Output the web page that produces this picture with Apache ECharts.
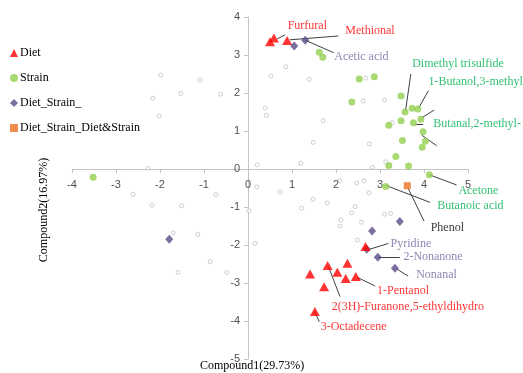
<!DOCTYPE html>
<html>
<head>
<meta charset="utf-8">
<script src="https://cdn.jsdelivr.net/npm/echarts@6/dist/echarts.min.js"></script>
<style>
  html, body { margin: 0; padding: 0; background: #fff; }
  #chart { width: 523px; height: 373px; }
</style>
</head>
<body>
<div id="chart"></div>
<script>
// Compound scores (Compound1, Compound2) for each group
const dietPoints = [
  [0.50, 3.35], [0.59, 3.45], [0.89, 3.38], [2.67, -2.04],
  [1.81, -2.54], [2.26, -2.48], [1.41, -2.76], [2.03, -2.72],
  [2.22, -2.88], [2.45, -2.83], [1.73, -3.10], [1.52, -3.75]
];
const strainPoints = [
  [1.62, 3.07], [1.70, 2.94], [-3.52, -0.22], [2.53, 2.37], [2.87, 2.43],
  [2.36, 1.76], [3.48, 1.92], [3.57, 1.50], [3.73, 1.60], [3.86, 1.58],
  [3.93, 1.31], [3.48, 1.27], [3.20, 1.15], [3.76, 1.22], [3.98, 0.98],
  [3.51, 0.75], [4.03, 0.73], [3.96, 0.57], [3.36, 0.33], [3.20, 0.09],
  [3.65, 0.08], [4.12, -0.15], [3.13, -0.46]
];
const dietStrainPoints = [
  [1.05, 3.24], [1.30, 3.39], [-1.79, -1.85], [3.45, -1.38],
  [2.82, -1.63], [2.70, -2.11], [2.95, -2.32], [3.34, -2.61]
];
const dietAndStrainPoints = [
  [3.62, -0.44]
];
const otherPoints = [
  [-1.98, 2.47], [-2.16, 1.86], [-2.02, 1.39], [-1.53, 1.99], [-1.09, 2.34],
  [-0.62, 1.97], [-2.28, 0.02], [0.21, 0.11], [-2.61, -0.67], [-2.18, -0.95],
  [-1.51, -0.97], [-0.73, -0.67], [0.20, -0.47], [0.02, -1.10], [-1.70, -1.68],
  [-1.14, -1.72], [0.16, -1.96], [-0.86, -2.44], [-1.59, -2.72], [-0.48, -2.72],
  [0.86, 2.69], [0.52, 2.45], [1.39, 2.36], [2.68, 2.39], [2.62, 1.79],
  [3.10, 1.82], [0.39, 1.60], [0.42, 1.41], [1.71, 1.27], [3.28, 1.22],
  [1.48, 0.70], [2.76, 0.66], [1.20, 0.15], [2.83, 0.04], [3.13, 0.19],
  [0.73, -0.60], [1.48, -0.79], [1.80, -0.89], [1.22, -1.03], [2.09, -0.31],
  [2.47, -0.37], [2.64, -0.31], [2.75, -0.63], [2.43, -0.99], [2.36, -1.15],
  [2.11, -1.34], [2.09, -1.50], [2.58, -1.40], [2.49, -1.87], [3.10, -1.19],
  [3.24, -1.17]
];

// Legend entries
const groupNames = ['Diet', 'Strain', 'Diet_Strain_', 'Diet_Strain_Diet&Strain'];

// Named compounds
const compoundNames = [
  'Furfural', 'Methional', 'Acetic acid', 'Dimethyl trisulfide',
  '1-Butanol,3-methyl', 'Butanal,2-methyl-', 'Acetone', 'Butanoic acid',
  'Phenol', 'Pyridine', '2-Nonanone', 'Nonanal', '1-Pentanol',
  '2(3H)-Furanone,5-ethyldihydro', '3-Octadecene'
];

// Axis titles
const xTitle = 'Compound1(29.73%)';
const yTitle = 'Compound2(16.97%)';

// Axis ranges
const xRange = [-4, 5];
const yRange = [-5, 4];

// ---- styling / layout ----
const RED = '#ff0000';
const GREEN = '#92d050';
const GREEN_TEXT = '#00b050';
const PURPLE = '#5b4a86';
const PURPLE_TEXT = '#7464a0';
const ORANGE = '#ef7021';
const SERIF = '"Liberation Serif", "Times New Roman", serif';

// label anchor (left edge, vertical middle) and leader line, in axis units
const labelLayout = [
  { color: RED,         at: [0.89, 3.76],  line: [[0.66, 3.42], [0.84, 3.53]] },
  { color: RED,         at: [2.20, 3.63],  line: [[0.95, 3.40], [2.05, 3.50]] },
  { color: PURPLE_TEXT, at: [1.95, 2.95],  line: [[1.30, 3.39], [1.95, 3.06]] },
  { color: GREEN_TEXT,  at: [3.72, 2.78],  line: [[3.58, 1.53], [3.70, 2.50]] },
  { color: GREEN_TEXT,  at: [4.09, 2.30],  line: [[3.88, 1.61], [4.10, 2.06]] },
  { color: GREEN_TEXT,  at: [4.20, 1.18],  line: [[3.80, 1.17], [3.98, 1.17]] },
  { color: GREEN_TEXT,  at: [4.77, -0.57], line: [[4.14, -0.16], [4.74, -0.42]] },
  { color: GREEN_TEXT,  at: [4.29, -0.97], line: [[3.15, -0.44], [4.14, -0.88]] },
  { color: '#000000',   at: [4.14, -1.55], line: [[3.64, -0.51], [4.00, -1.37]] },
  { color: PURPLE_TEXT, at: [3.23, -1.97], line: [[2.77, -2.11], [3.19, -1.96]] },
  { color: PURPLE_TEXT, at: [3.52, -2.31], line: [[2.96, -2.31], [3.45, -2.31]] },
  { color: PURPLE_TEXT, at: [3.81, -2.79], line: [[3.38, -2.63], [3.64, -2.82]] },
  { color: RED,         at: [2.92, -3.20], line: [[2.48, -2.85], [2.89, -3.08]] },
  { color: RED,         at: [1.89, -3.64], line: [[1.83, -2.57], [2.09, -3.36]] },
  { color: RED,         at: [1.64, -4.15], line: [[1.52, -3.76], [1.62, -4.02]] }
];
// extra leader lines without their own text
const extraLines = [
  [[3.95, 1.35], [4.23, 1.55]],
  [[3.95, 0.89], [4.29, 0.61]]
];

const GRID = { left: 72, top: 17, width: 396, height: 342 };
// shift each axis from the grid edge to the zero line of the other axis
const xAxisOffset = -GRID.height * (0 - yRange[0]) / (yRange[1] - yRange[0]);
const yAxisOffset = -GRID.width * (0 - xRange[0]) / (xRange[1] - xRange[0]);

const chart = echarts.init(document.getElementById('chart'), null, { renderer: 'canvas' });

const axisColor = '#c4c4c4';
const tickLabel = { color: '#505050', fontFamily: '"Liberation Sans", Arial, sans-serif', fontSize: 11 };

const leaderData = labelLayout.map(l => ({ coords: l.line }))
  .concat(extraLines.map(c => ({ coords: c })));

const labelData = compoundNames.map((n, i) => ({
  name: n,
  value: labelLayout[i].at,
  label: { color: labelLayout[i].color }
}));

chart.setOption({
  animation: false,
  backgroundColor: '#ffffff',
  grid: Object.assign({ containLabel: false }, GRID),
  title: {
    text: xTitle,
    left: 200, top: 358,
    padding: [2, 0, 0, 0],
    textStyle: { fontFamily: SERIF, fontSize: 12, fontWeight: 'normal', color: '#000' }
  },
  graphic: [{
    type: 'text',
    x: 44, y: 210,
    rotation: Math.PI / 2,
    style: {
      text: yTitle,
      fontFamily: SERIF, fontSize: 12, fill: '#000',
      align: 'center', verticalAlign: 'middle'
    }
  }],
  legend: {
    orient: 'vertical',
    left: 5, top: 42,
    itemWidth: 8, itemHeight: 8,
    itemGap: 13,
    data: [
      { name: groupNames[0], icon: 'triangle' },
      { name: groupNames[1], icon: 'circle' },
      { name: groupNames[2], icon: 'diamond' },
      { name: groupNames[3], icon: 'rect' }
    ],
    textStyle: { fontFamily: SERIF, fontSize: 12, color: '#000', padding: [0, 0, 0, -3] }
  },
  xAxis: {
    type: 'value', min: xRange[0], max: xRange[1], interval: 1,
    position: 'bottom', offset: xAxisOffset,
    axisLine: { onZero: false, lineStyle: { color: axisColor, width: 1 } },
    axisTick: { show: true, length: 4, lineStyle: { color: axisColor } },
    splitLine: { show: false },
    axisLabel: Object.assign({ margin: 10 }, tickLabel)
  },
  yAxis: {
    type: 'value', min: yRange[0], max: yRange[1], interval: 1,
    position: 'left', offset: yAxisOffset,
    axisLine: { onZero: false, lineStyle: { color: axisColor, width: 1 } },
    axisTick: { show: true, length: 4, lineStyle: { color: axisColor } },
    splitLine: { show: false },
    axisLabel: Object.assign({ margin: 8 }, tickLabel)
  },
  series: [
    {
      name: 'other', type: 'scatter', data: otherPoints,
      symbol: 'circle', symbolSize: 4,
      itemStyle: { color: '#ffffff', borderColor: '#b4b4b4', borderWidth: 0.8 },
      z: 2
    },
    {
      name: 'leaders', type: 'lines', coordinateSystem: 'cartesian2d',
      data: leaderData,
      lineStyle: { color: '#404040', width: 1, opacity: 1 },
      z: 3
    },
    {
      name: groupNames[1], type: 'scatter', data: strainPoints,
      symbol: 'circle', symbolSize: 7,
      itemStyle: { color: GREEN }, z: 4
    },
    {
      name: groupNames[3], type: 'scatter', data: dietAndStrainPoints,
      symbol: 'rect', symbolSize: 7,
      itemStyle: { color: ORANGE }, z: 4
    },
    {
      name: groupNames[2], type: 'scatter', data: dietStrainPoints,
      symbol: 'diamond', symbolSize: [8, 9],
      itemStyle: { color: PURPLE }, z: 5
    },
    {
      name: groupNames[0], type: 'scatter', data: dietPoints,
      symbol: 'triangle', symbolSize: [10, 9],
      itemStyle: { color: RED }, z: 6
    },
    {
      name: 'names', type: 'scatter', data: labelData,
      symbolSize: 1, itemStyle: { color: 'rgba(0,0,0,0)' },
      silent: true,
      label: {
        show: true, position: 'right', distance: 0,
        formatter: p => p.name,
        fontFamily: SERIF, fontSize: 12
      },
      labelLayout: { hideOverlap: false },
      z: 7
    }
  ]
});
</script>
</body>
</html>
